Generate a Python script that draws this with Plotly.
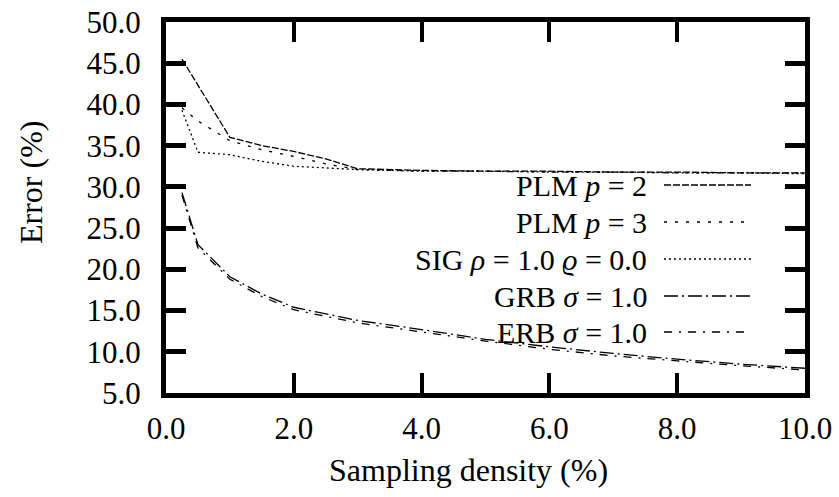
import plotly.graph_objects as go

# ---- data ----
density = [0.25, 0.5, 1.0, 1.5, 2.0, 2.5, 3.0, 4.0, 5.0, 6.0, 7.0, 8.0, 9.0, 10.0]
plm_p2 = [45.5, 42.3, 36.0, 35.0, 34.3, 33.4, 32.2, 32.0, 31.9, 31.9, 31.8, 31.8, 31.7, 31.7]
plm_p3 = [39.6, 38.0, 35.6, 34.5, 33.7, 32.8, 32.1, 31.9, 31.9, 31.8, 31.8, 31.7, 31.7, 31.7]
sig = [39.3, 34.2, 33.9, 33.1, 32.5, 32.3, 32.1, 31.9, 31.9, 31.8, 31.8, 31.7, 31.7, 31.6]
grb = [29.3, 23.0, 19.1, 17.0, 15.4, 14.6, 13.8, 12.7, 11.5, 10.6, 9.8, 9.1, 8.5, 8.0]
erb = [29.0, 22.6, 18.8, 16.7, 15.1, 14.3, 13.5, 12.4, 11.3, 10.3, 9.5, 8.9, 8.3, 7.8]

names = ["PLM <i>p</i> = 2", "PLM <i>p</i> = 3", "SIG <i>\u03c1</i> = 1.0 <i>\u03f1</i> = 0.0",
         "GRB <i>\u03c3</i> = 1.0", "ERB <i>\u03c3</i> = 1.0"]
series = [plm_p2, plm_p3, sig, grb, erb]
dashes = ["7px,2px", "3px,8px", "2px,3px", "14px,4px,2px,4px", "8px,7px,2px,7px"]

xticks = [0, 2, 4, 6, 8, 10]
yticks = [5, 10, 15, 20, 25, 30, 35, 40, 45, 50]
x_title = "Sampling density (%)"
y_title = "Error (%)"

W, H = 839, 497
L, R, T, B = 166, 805, 22, 393
FONT = "Liberation Serif, Times New Roman, serif"


def px_x(p):
    return (p - L) / (R - L)


def px_y(p):
    return (B - p) / (B - T)


fig = go.Figure()
for name, ys, d in zip(names, series, dashes):
    fig.add_trace(go.Scatter(x=density, y=ys, mode="lines", name=name,
                             line=dict(color="black", width=1.3, dash=d),
                             showlegend=False))

# custom legend: text right-aligned, sample line to the right
rows_px = [185, 222, 259, 296, 332]
shapes, annos = [], []
for name, d, ypx in zip(names, dashes, rows_px):
    annos.append(dict(x=px_x(649), y=px_y(ypx), xref="paper", yref="paper",
                      text=name, showarrow=False, xanchor="right", yanchor="middle",
                      font=dict(family=FONT, size=30, color="black")))
    shapes.append(dict(type="line", xref="paper", yref="paper",
                       x0=px_x(664), x1=px_x(751), y0=px_y(ypx), y1=px_y(ypx),
                       line=dict(color="black", width=1.3, dash=d)))

# axis titles (placed like the original, slightly off-centre)
annos.append(dict(x=px_x(468), y=px_y(470), xref="paper", yref="paper", text=x_title,
                  showarrow=False, xanchor="center", yanchor="middle",
                  font=dict(family=FONT, size=32, color="black")))
annos.append(dict(x=px_x(31), y=px_y(183), xref="paper", yref="paper", text=y_title,
                  showarrow=False, xanchor="center", yanchor="middle", textangle=-90,
                  font=dict(family=FONT, size=32, color="black")))

fig.update_layout(
    width=W, height=H,
    margin=dict(l=L, r=W - R, t=T, b=H - B, pad=0),
    paper_bgcolor="white", plot_bgcolor="white",
    font=dict(family=FONT, size=31, color="black"),
    shapes=shapes, annotations=annos,
)
fig.update_xaxes(range=[0, 10], tickvals=xticks, tickformat=".1f", automargin=False,
                 showline=True, linewidth=5, linecolor="black", mirror="ticks",
                 ticks="inside", ticklen=20, tickwidth=4, tickcolor="black",
                 showgrid=False, zeroline=False, ticklabelstandoff=4)
fig.update_yaxes(range=[5, 50], tickvals=yticks, tickformat=".1f", automargin=False,
                 showline=True, linewidth=5, linecolor="black", mirror="ticks",
                 ticks="inside", ticklen=20, tickwidth=5, tickcolor="black",
                 showgrid=False, zeroline=False, ticklabelstandoff=14)

fig.write_html("out.html", config={"displayModeBar": False},
               post_script="document.body.style.margin='0';")
